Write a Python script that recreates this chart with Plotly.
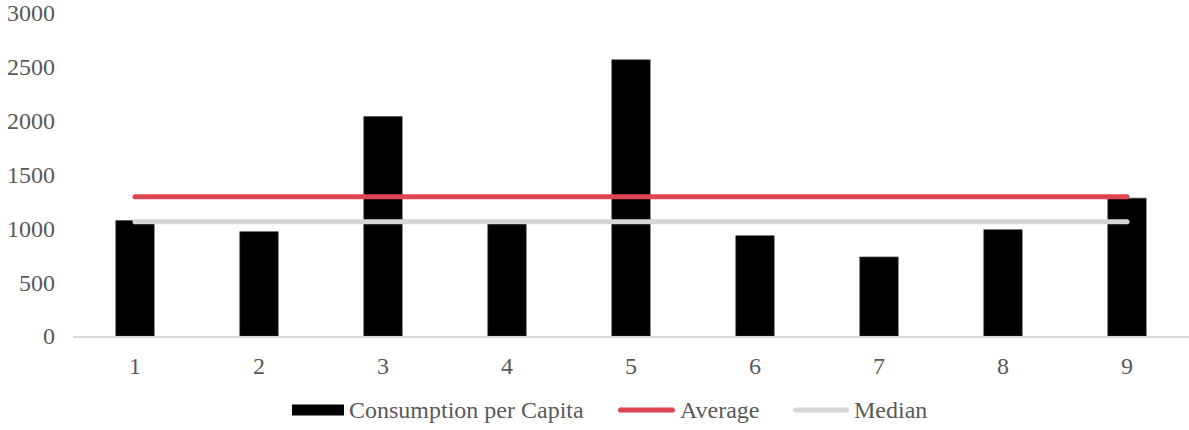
import numpy as np
import plotly.graph_objects as go

# Per-capita consumption for nine entries
categories = [1, 2, 3, 4, 5, 6, 7, 8, 9]
consumption = [1072, 969, 2038, 1060, 2565, 932, 734, 988, 1280]
y_ticks = [0, 500, 1000, 1500, 2000, 2500, 3000]

avg_value = float(np.mean(consumption))
median_value = float(np.median(consumption))

BAR_COLOR = "#000000"
AVG_COLOR = "#E04555"
MED_COLOR = "#D6D6D6"
FONT = dict(family="Liberation Serif, Times New Roman, serif", size=24, color="#595959")

W, H = 1189, 430
ML, MR, MT, MB = 73, 0, 13, 94
PLOT_W = W - ML - MR
PLOT_H = H - MT - MB


def px_x(px):
    """Convert a pixel column to paper x (plot-area relative)."""
    return (px - ML) / PLOT_W


def px_y(py):
    """Convert a pixel row to paper y (plot-area relative)."""
    return (H - MB - py) / PLOT_H


fig = go.Figure()

fig.add_trace(go.Bar(
    x=categories,
    y=consumption,
    width=0.31,
    marker=dict(color=BAR_COLOR, line=dict(color="#3a3a3a", width=0.6)),
    name="Consumption per Capita",
    showlegend=False,
))

# Reference lines, with a dot at both ends for a rounded cap
ends = [categories[0], categories[-1]]
for value, color, label in [(avg_value, AVG_COLOR, "Average"),
                            (median_value, MED_COLOR, "Median")]:
    fig.add_trace(go.Scatter(
        x=categories,
        y=[value] * len(categories),
        mode="lines",
        line=dict(color=color, width=5),
        name=label,
        showlegend=False,
        hoverinfo="name+y",
    ))
    fig.add_trace(go.Scatter(
        x=ends,
        y=[value] * len(ends),
        mode="markers",
        marker=dict(color=color, size=5, line=dict(width=0)),
        name=label,
        showlegend=False,
        hoverinfo="skip",
    ))

# Legend drawn below the plot: wide swatches followed by labels
legend_y = 410
legend_items = [
    ("rect", BAR_COLOR, 292, 344, "Consumption per Capita"),
    ("line", AVG_COLOR, 618, 675, "Average"),
    ("line", MED_COLOR, 793, 849, "Median"),
]
shapes = []
annotations = []
for kind, color, x0, x1, label in legend_items:
    if kind == "rect":
        shapes.append(dict(
            type="rect", xref="paper", yref="paper",
            x0=px_x(x0), x1=px_x(x1),
            y0=px_y(legend_y + 5.5), y1=px_y(legend_y - 5.5),
            fillcolor=color, line=dict(width=0),
        ))
    else:
        shapes.append(dict(
            type="line", xref="paper", yref="paper",
            x0=px_x(x0 + 2.5), x1=px_x(x1 - 2.5),
            y0=px_y(legend_y), y1=px_y(legend_y),
            line=dict(color=color, width=5),
        ))
        # rounded ends of the swatch
        for cx in (x0 + 2.5, x1 - 2.5):
            shapes.append(dict(
                type="circle", xref="paper", yref="paper",
                x0=px_x(cx - 2.5), x1=px_x(cx + 2.5),
                y0=px_y(legend_y + 2.5), y1=px_y(legend_y - 2.5),
                fillcolor=color, line=dict(width=0),
            ))
    annotations.append(dict(
        text=label, xref="paper", yref="paper",
        x=px_x(x1 + 3), y=px_y(legend_y),
        xanchor="left", yanchor="middle",
        showarrow=False, font=FONT,
    ))

fig.update_layout(
    width=W,
    height=H,
    margin=dict(l=ML, r=MR, t=MT, b=MB),
    paper_bgcolor="white",
    plot_bgcolor="white",
    font=FONT,
    showlegend=False,
    shapes=shapes,
    annotations=annotations,
)

fig.update_xaxes(
    range=[0.5, 9.5],
    tickmode="array",
    tickvals=categories,
    ticktext=[str(c) for c in categories],
    showgrid=False,
    zeroline=False,
    showline=True,
    linecolor="#D9D9D9",
    linewidth=1.5,
    ticks="",
    ticklabelstandoff=7,
    tickfont=FONT,
)

fig.update_yaxes(
    range=[0, 3000],
    tickmode="array",
    tickvals=y_ticks,
    ticktext=[str(v) for v in y_ticks],
    showgrid=False,
    zeroline=False,
    showline=False,
    ticks="",
    ticklabelstandoff=17,
    tickfont=FONT,
)

fig.write_html("out.html")
